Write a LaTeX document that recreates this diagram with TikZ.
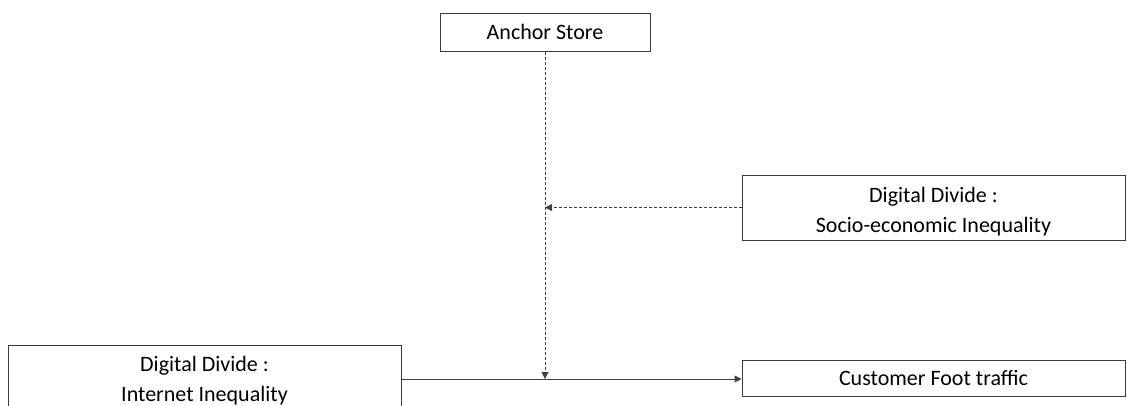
\documentclass[tikz,border=0pt]{standalone}
\usepackage{fontspec}
\setmainfont{Carlito}
\usetikzlibrary{arrows.meta}
\definecolor{edgegray}{HTML}{3A3A3A}
\definecolor{linegray}{HTML}{404040}
\tikzset{
  box/.style={draw=edgegray, line width=1pt, rectangle, inner sep=0pt},
  txt/.style={font=\fontsize{22}{30}\selectfont, align=center, inner sep=0pt, text=black},
  link/.style={draw=linegray, line width=1pt, -{Triangle[length=7pt,width=7pt]}},
  dashlink/.style={link, dash pattern=on 3pt off 2pt},
}
\begin{document}
\begin{tikzpicture}[x=1pt, y=-1pt]
  \useasboundingbox (0,0) rectangle (1127,405);
  \clip (0,0) rectangle (1127,405);

  % boxes
  \node[box, minimum width=210, minimum height=38] (anchor) at (545,32) {};
  \node[txt] at (anchor.center) {Anchor Store};

  \node[box, minimum width=383, minimum height=65] (socio) at (933.5,207.5) {};
  \node[txt] at ([yshift=-4pt]socio.center) {Digital Divide :\\Socio-economic Inequality};

  \node[box, minimum width=393, minimum height=68] (internet) at (204.5,379) {};
  \node[txt] at (204.5,380.5) {Digital Divide :\\Internet Inequality};

  \node[box, minimum width=383, minimum height=36] (customer) at (933.5,378) {};
  \node[txt] at (customer.center) {Customer Foot traffic};

  % junction points on the vertical link
  \coordinate (meet) at (anchor.south |- socio.west);
  \coordinate (land) at (anchor.south |- internet.east);

  % connectors
  \draw[dashlink] (anchor.south) -- (land);
  \draw[dashlink] (socio.west) -- (meet);
  \draw[link] (internet.east) -- (internet.east -| customer.west);
\end{tikzpicture}
\end{document}
